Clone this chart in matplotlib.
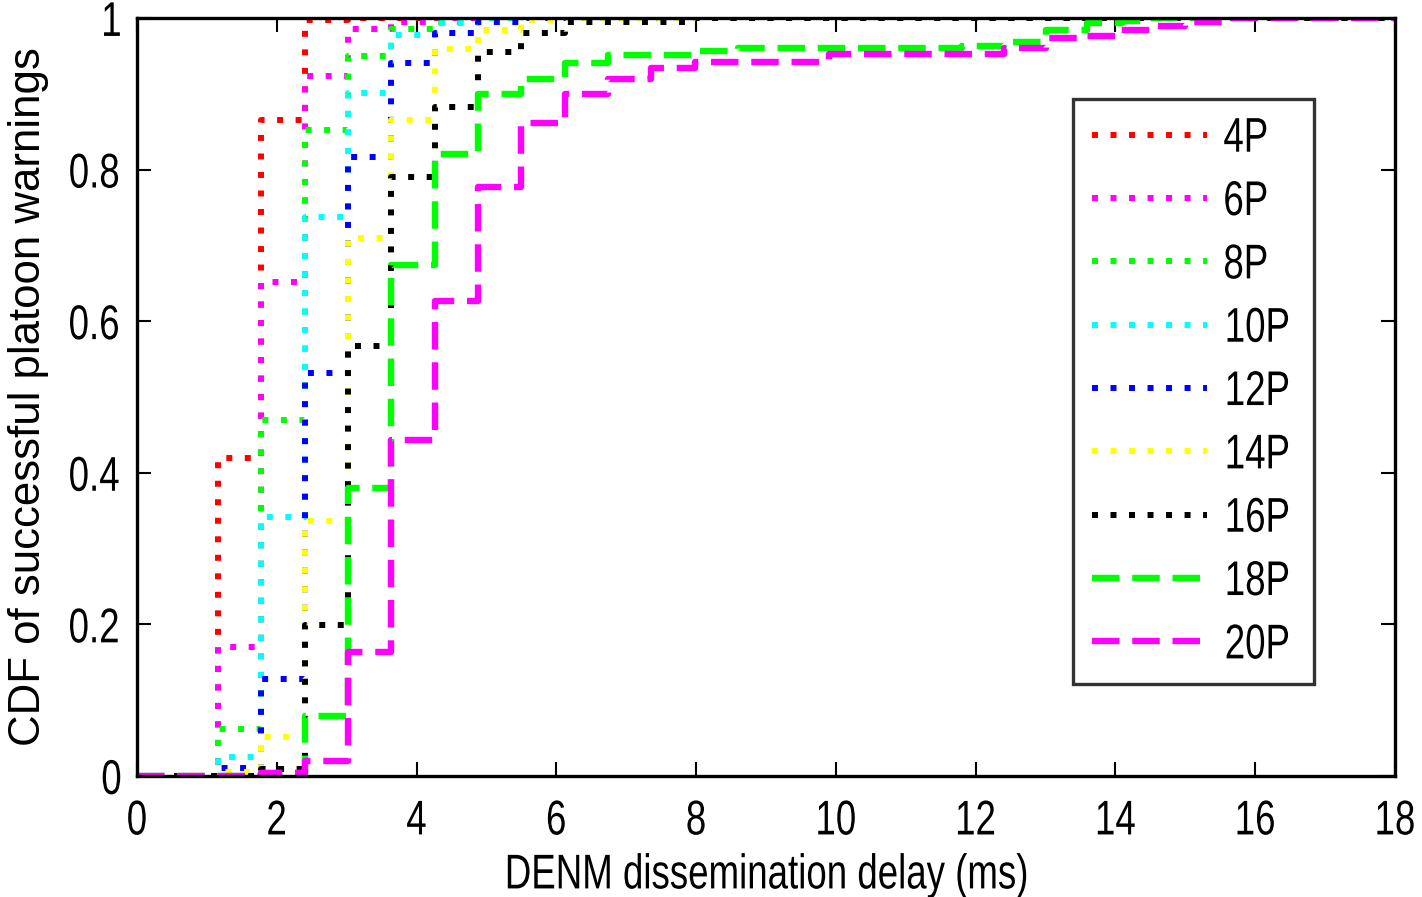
import matplotlib
matplotlib.use("Agg")
import matplotlib.pyplot as plt
from matplotlib.patheffects import AbstractPathEffect
from matplotlib.transforms import Affine2D

plt.rcParams["font.family"] = ["Liberation Sans", "DejaVu Sans"]

# ---- data (step times in ms, CDF value after each step) ----
labels = ["4P", "6P", "8P", "10P", "12P", "14P", "16P", "18P", "20P"]

x_4p = [1.16, 1.78, 2.40, 3.02]
y_4p = [0.42, 0.865, 0.997, 1.0]

x_6p = [1.16, 1.78, 2.40, 3.02, 3.64, 4.26]
y_6p = [0.17, 0.652, 0.923, 0.985, 0.995, 1.0]

x_8p = [1.16, 1.78, 2.40, 3.02, 3.64, 4.26, 4.88]
y_8p = [0.062, 0.47, 0.852, 0.95, 0.985, 0.995, 1.0]

x_10p = [1.16, 1.78, 2.40, 3.02, 3.64, 4.26, 4.88]
y_10p = [0.025, 0.342, 0.738, 0.901, 0.978, 0.993, 1.0]

x_12p = [1.16, 1.78, 2.40, 3.02, 3.64, 4.26, 4.88, 5.50]
y_12p = [0.01, 0.128, 0.532, 0.817, 0.94, 0.98, 0.995, 1.0]

x_14p = [1.16, 1.78, 2.40, 3.02, 3.64, 4.26, 4.88, 5.50, 6.12]
y_14p = [0.005, 0.052, 0.337, 0.71, 0.865, 0.959, 0.984, 0.997, 1.0]

x_16p = [1.78, 2.40, 3.02, 3.64, 4.26, 4.88, 5.50, 6.12, 7.98]
y_16p = [0.009, 0.199, 0.567, 0.79, 0.883, 0.955, 0.98, 0.995, 1.0]

x_18p = [1.78, 2.40, 3.02, 3.64, 4.26, 4.88, 5.50, 6.12, 6.74, 7.98, 8.60,
         11.80, 12.40, 13.00, 13.60, 14.10, 14.50]
y_18p = [0.004, 0.079, 0.38, 0.674, 0.82, 0.90, 0.92, 0.94, 0.951, 0.956, 0.96,
         0.963, 0.968, 0.984, 0.993, 0.996, 1.0]

x_20p = [1.78, 2.40, 3.02, 3.64, 4.26, 4.88, 5.50, 6.12, 6.74, 7.36, 7.98,
         9.90, 12.40, 13.00, 13.50, 14.00, 14.50, 15.00, 15.60]
y_20p = [0.004, 0.02, 0.164, 0.443, 0.626, 0.777, 0.861, 0.90, 0.92, 0.934, 0.942,
         0.953, 0.96, 0.973, 0.976, 0.984, 0.99, 0.995, 1.0]

xs = [x_4p, x_6p, x_8p, x_10p, x_12p, x_14p, x_16p, x_18p, x_20p]
ys = [y_4p, y_6p, y_8p, y_10p, y_12p, y_14p, y_16p, y_18p, y_20p]

colors = ["#ff0000", "#ff00ff", "#00ff00", "#00ffff", "#0000ff", "#ffff00",
          "#000000", "#00ff00", "#ff00ff"]
dotted = (0, (1.0, 2.1))
dashed = (0, (4.3, 2.0))
styles = [dotted] * 7 + [dashed] * 2
widths = [4.3] * 7 + [4.6] * 2

x_ticks = [0, 2, 4, 6, 8, 10, 12, 14, 16, 18]
y_ticks = [0, 0.2, 0.4, 0.6, 0.8, 1.0]
y_ticklabels = ["0", "0.2", "0.4", "0.6", "0.8", "1"]


class Stretch(AbstractPathEffect):
    """Draw text glyphs scaled about their own centre (narrow, tall look)."""

    def __init__(self, sx, sy):
        super().__init__()
        self.sx, self.sy = sx, sy

    def draw_path(self, renderer, gc, tpath, affine, rgbFace=None):
        v = tpath.vertices
        if len(v):
            cx = (v[:, 0].min() + v[:, 0].max()) / 2
            cy = (v[:, 1].min() + v[:, 1].max()) / 2
        else:
            cx = cy = 0.0
        t = Affine2D().translate(-cx, -cy).scale(self.sx, self.sy).translate(cx, cy) + affine
        renderer.draw_path(gc, tpath, t, rgbFace)


stretch = [Stretch(0.88, 1.17)]

fig = plt.figure(figsize=(14.22, 8.97), dpi=100)
ax = fig.add_axes([137 / 1422, 1 - 776 / 897, (1395 - 137) / 1422, (776 - 18) / 897])

for x, y, c, ls, lw, lab in zip(xs, ys, colors, styles, widths, labels):
    xx = [0.0] + list(x) + [18.0]
    yy = [0.0] + list(y) + [y[-1]]
    ax.step(xx, yy, where="post", color=c, linestyle=ls, linewidth=lw,
            label=lab, dash_capstyle="butt", solid_joinstyle="miter")

ax.set_xlim(0, 18)
ax.set_ylim(0, 1)
ax.set_xticks(x_ticks)
ax.set_xticklabels([str(t) for t in x_ticks])
ax.set_yticks(y_ticks)
ax.set_yticklabels(y_ticklabels)
ax.tick_params(direction="in", length=10, width=1.5, top=True, right=True,
               labelsize=30, pad=10)
ax.tick_params(axis="x", pad=18)
for s in ax.spines.values():
    s.set_linewidth(2.4)
    s.set_zorder(5)
for lbl in ax.get_xticklabels() + ax.get_yticklabels():
    lbl.set_path_effects(stretch)

xl = ax.set_xlabel("DENM dissemination delay (ms)", fontsize=30, labelpad=10.5)
xl.set_path_effects(stretch)
ax.set_ylabel("CDF of successful platoon warnings", fontsize=31.5, labelpad=12)

leg = ax.legend(loc="upper left", bbox_to_anchor=(0.744, 0.893), fontsize=30,
                frameon=True, fancybox=False, edgecolor="black",
                handlelength=2.76, handletextpad=0.32, labelspacing=0.56,
                borderpad=0.46, borderaxespad=0)
leg.get_frame().set_linewidth(2.4)
for t in leg.get_texts():
    t.set_path_effects(stretch)

fig.savefig("out.png", dpi=100)
